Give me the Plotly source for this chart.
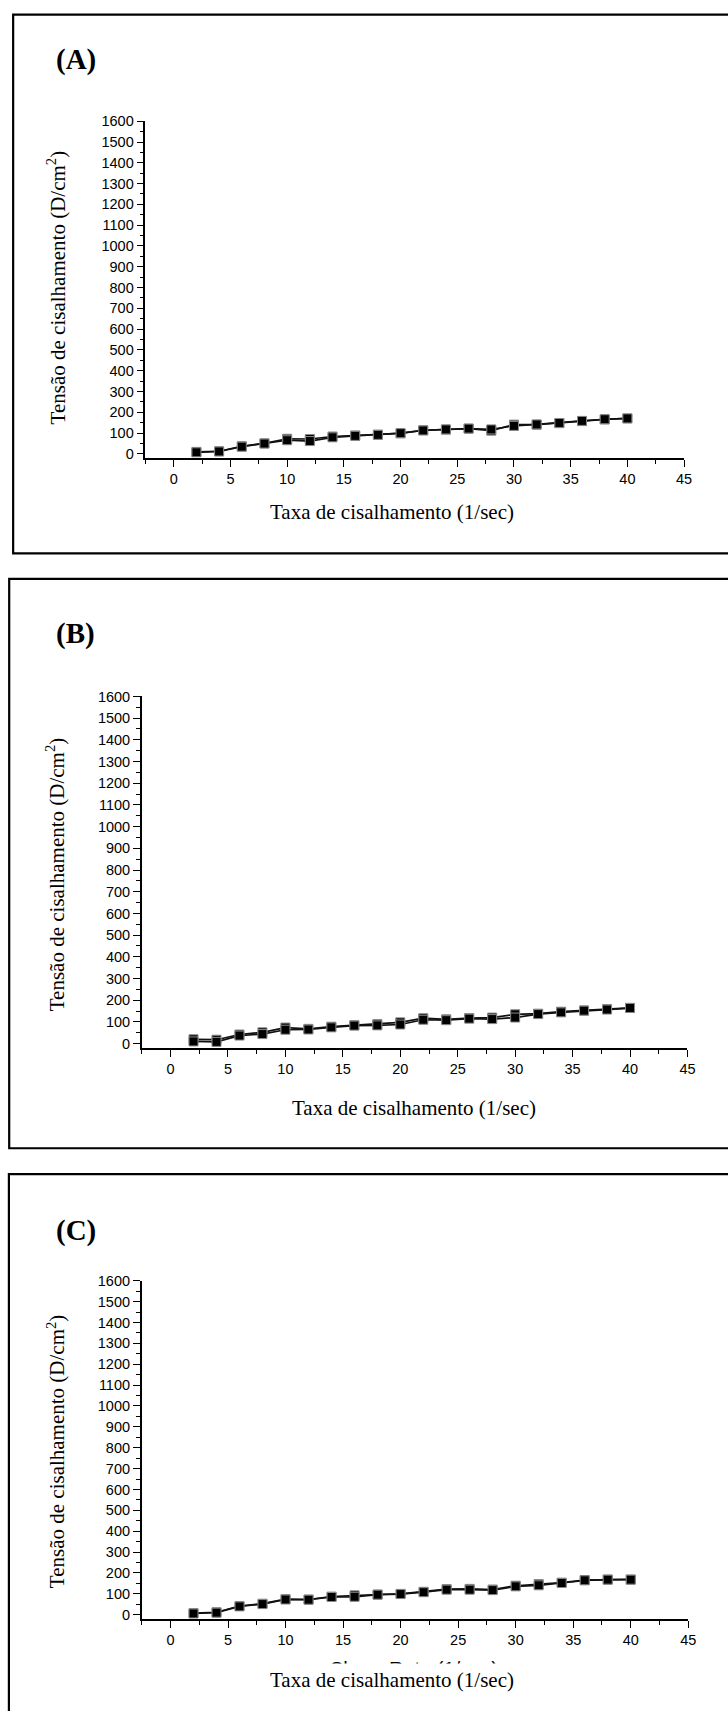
import plotly.graph_objects as go

W, H = 728, 1711

shear_rate = [2, 4, 6, 8, 10, 12, 14, 16, 18, 20, 22, 24, 26, 28, 30, 32, 34, 36, 38, 40]

a_up = [10, 13, 37, 51, 73, 72, 84, 89, 93, 99, 114, 117, 122, 112, 141, 141, 148, 158, 166, 171]
a_down = [8, 12, 35, 50, 66, 62, 80, 87, 92, 100, 113, 118, 122, 118, 135, 142, 149, 159, 167, 171]

b_up = [20, 18, 42, 52, 74, 68, 78, 85, 90, 98, 117, 112, 118, 120, 135, 138, 147, 153, 159, 165]
b_down = [10, 8, 37, 44, 64, 65, 75, 83, 84, 88, 110, 108, 115, 113, 120, 136, 144, 152, 157, 164]

c_up = [8, 12, 42, 53, 75, 73, 87, 93, 97, 100, 110, 123, 124, 121, 139, 147, 154, 166, 169, 169]
c_down = [6, 10, 40, 51, 73, 72, 85, 86, 96, 99, 108, 120, 120, 118, 136, 141, 152, 165, 168, 168]

panel_labels = ["(A)", "(B)", "(C)"]
x_title = "Taxa de cisalhamento (1/sec)"
y_title = "Tensão de cisalhamento (D/cm<sup>2</sup>)"
hidden_title = "Shear Rate (1/sec)"

SERIF = "Liberation Serif, Times New Roman, serif"
SANS = "Liberation Sans, Arial, sans-serif"


def px(x):
    return x / W


def py(y):
    return 1 - y / H


# pixel geometry of each panel: plot area (left, right, top, bottom), frame, labels
panels = [
    dict(data=(a_up, a_down), plot=(147.0, 691.7, 114.0, 453.3), frame=(13.3, 6.7, 740, 549.3),
         label=(76.5, 52.0), xt=(396, 508), yt=(57, 281)),
    dict(data=(b_up, b_down), plot=(143.4, 695.1, 693.3, 1047.3), frame=(9.3, 575.0, 740, 1148.3),
         label=(76.5, 629.5), xt=(419, 1108), yt=(57, 872)),
    dict(data=(c_up, c_down), plot=(143.3, 695.9, 1281.7, 1622.3), frame=(9.0, 1174.3, 740, 1730),
         label=(76.5, 1231.0), xt=(396, 1684), yt=(57, 1453)),
]

fig = go.Figure()
shapes = []
annotations = []

for i, p in enumerate(panels):
    n = "" if i == 0 else str(i + 1)
    l, r, t, b = p["plot"]
    for ys in p["data"]:
        fig.add_trace(go.Scatter(
            x=shear_rate, y=ys, mode="lines+markers",
            xaxis="x" + n, yaxis="y" + n, showlegend=False,
            line=dict(color="#111111", width=1.7),
            marker=dict(symbol="square", size=9, color="black",
                        line=dict(color="#8a8a8a", width=1)),
        ))
    common = dict(showgrid=False, zeroline=False, showline=True, linecolor="black",
                  linewidth=1.5, ticks="outside", tickcolor="black", tickwidth=1.3,
                  ticklen=7, tickfont=dict(family=SANS, size=14.5, color="black"))
    fig.update_layout(**{
        "xaxis" + n: dict(domain=[px(l), px(r)], anchor="y" + n, range=[-2.5, 45],
                          tick0=0, dtick=5,
                          minor=dict(dtick=2.5, tick0=0, ticks="outside", ticklen=4,
                                     tickcolor="black", tickwidth=1.3),
                          **common),
        "yaxis" + n: dict(domain=[py(b), py(t)], anchor="x" + n, range=[-20, 1600],
                          tick0=0, dtick=100,
                          minor=dict(dtick=50, tick0=0, ticks="outside", ticklen=4,
                                     tickcolor="black", tickwidth=1.3),
                          **common),
    })
    fx0, fy0, fx1, fy1 = p["frame"]
    shapes.append(dict(type="rect", xref="paper", yref="paper",
                       x0=px(fx0), x1=px(fx1), y0=py(fy0), y1=py(fy1),
                       line=dict(color="black", width=2.2), fillcolor="rgba(0,0,0,0)",
                       layer="below"))
    lx, ly = p["label"]
    annotations.append(dict(text="<b>" + panel_labels[i] + "</b>", xref="paper", yref="paper",
                            x=px(lx), y=py(ly), xanchor="center", yanchor="middle",
                            showarrow=False, font=dict(family=SERIF, size=29, color="black")))
    if i == 2:
        annotations.append(dict(text=hidden_title, xref="paper", yref="paper",
                                x=px(419), y=py(1673), xanchor="center", yanchor="middle",
                                showarrow=False, font=dict(family=SANS, size=20, color="black")))
    tx, ty = p["xt"]
    annotations.append(dict(text=x_title, xref="paper", yref="paper",
                            x=px(tx), y=py(ty), xanchor="center", yanchor="middle",
                            showarrow=False, bgcolor="white", borderpad=4,
                            font=dict(family=SERIF, size=21, color="black")))
    yx, yy = p["yt"]
    annotations.append(dict(text=y_title, xref="paper", yref="paper",
                            x=px(yx), y=py(yy), xanchor="center", yanchor="middle",
                            textangle=-90, showarrow=False,
                            font=dict(family=SERIF, size=21, color="black")))

fig.update_layout(width=W, height=H, margin=dict(l=0, r=0, t=0, b=0),
                  paper_bgcolor="white", plot_bgcolor="rgba(0,0,0,0)",
                  shapes=shapes, annotations=annotations, showlegend=False)

fig.write_html("out.html", config={"displayModeBar": False})
